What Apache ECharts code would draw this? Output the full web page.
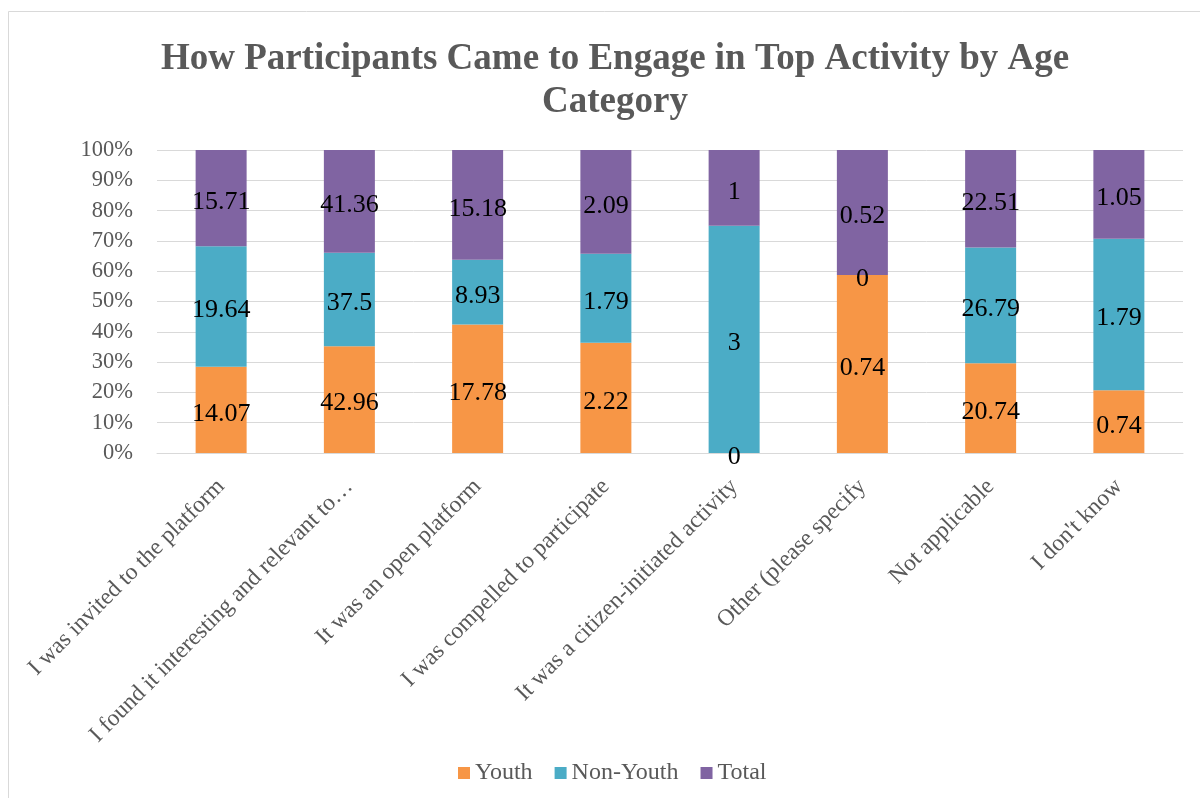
<!DOCTYPE html>
<html>
<head>
<meta charset="utf-8">
<script src="https://cdn.jsdelivr.net/npm/echarts@6/dist/echarts.min.js"></script>
<style>
  html, body { margin: 0; padding: 0; background: #fff; }
  #chart { width: 1200px; height: 798px; }
</style>
</head>
<body>
<div id="chart"></div>
<script>
// Categories and raw counts per age group
const categories = [
  'I was invited to the platform',
  'I found it interesting and relevant to\u2026',
  'It was an open platform',
  'I was compelled to participate',
  'It was a citizen-initiated activity',
  'Other (please specify',
  'Not applicable',
  "I don't know"
];
const youth    = [14.07, 42.96, 17.78, 2.22, 0, 0.74, 20.74, 0.74];
const nonYouth = [19.64, 37.5, 8.93, 1.79, 3, 0, 26.79, 1.79];
const total    = [15.71, 41.36, 15.18, 2.09, 1, 0.52, 22.51, 1.05];
const yTicks   = ['0%', '10%', '20%', '30%', '40%', '50%', '60%', '70%', '80%', '90%', '100%'];

// 100% stacked: each segment is its share of the column sum
const sums = categories.map((_, i) => youth[i] + nonYouth[i] + total[i]);
const share = arr => arr.map((v, i) => (sums[i] ? v / sums[i] * 100 : 0));

const serif = '"Liberation Serif", "Times New Roman", serif';
const colors = ['#F79646', '#4BACC6', '#8064A2'];

function makeSeries(name, raw, color) {
  return {
    name: name,
    type: 'bar',
    stack: 'all',
    barWidth: 51,
    data: share(raw),
    itemStyle: { color: color },
    label: {
      show: true,
      position: 'inside',
      offset: [0, 4],
      color: '#000',
      fontFamily: serif,
      fontSize: 26,
      formatter: p => String(raw[p.dataIndex])
    }
  };
}

const chart = echarts.init(document.getElementById('chart'));
chart.setOption({
  animation: false,
  backgroundColor: '#fff',
  title: {
    text: 'How Participants Came to Engage in Top Activity by Age\nCategory',
    left: 610,
    textAlign: 'center',
    top: 33,
    textStyle: {
      fontFamily: serif,
      fontWeight: 'bold',
      fontSize: 37,
      lineHeight: 43,
      color: '#595959'
    }
  },
  legend: {
    bottom: 8,
    left: 453,
    itemWidth: 12,
    itemHeight: 12,
    itemGap: 22,
    icon: 'rect',
    textStyle: { fontFamily: serif, fontSize: 24, color: '#595959' },
    data: ['Youth', 'Non-Youth', 'Total']
  },
  grid: { left: 157, right: 17, top: 150, bottom: 345 },
  xAxis: {
    type: 'category',
    data: categories,
    axisLine: { lineStyle: { color: '#d9d9d9' } },
    axisTick: { show: false },
    axisLabel: {
      interval: 0,
      rotate: 45,
      margin: 30,
      fontFamily: serif,
      fontSize: 23.5,
      color: '#595959'
    }
  },
  yAxis: {
    type: 'value',
    min: 0,
    max: 100,
    interval: 10,
    axisLine: { show: false },
    axisTick: { show: false },
    splitLine: { lineStyle: { color: '#d9d9d9', width: 1 } },
    axisLabel: {
      margin: 24,
      fontFamily: serif,
      fontSize: 22.5,
      color: '#595959',
      formatter: v => yTicks[Math.round(v / 10)]
    }
  },
  graphic: [{
    type: 'rect',
    shape: { x: 8.5, y: 11.5, width: 1300, height: 900 },
    style: { fill: 'none', stroke: '#d9d9d9', lineWidth: 1 },
    silent: true
  }],
  series: [
    makeSeries('Youth', youth, colors[0]),
    makeSeries('Non-Youth', nonYouth, colors[1]),
    makeSeries('Total', total, colors[2])
  ]
});
</script>
</body>
</html>
